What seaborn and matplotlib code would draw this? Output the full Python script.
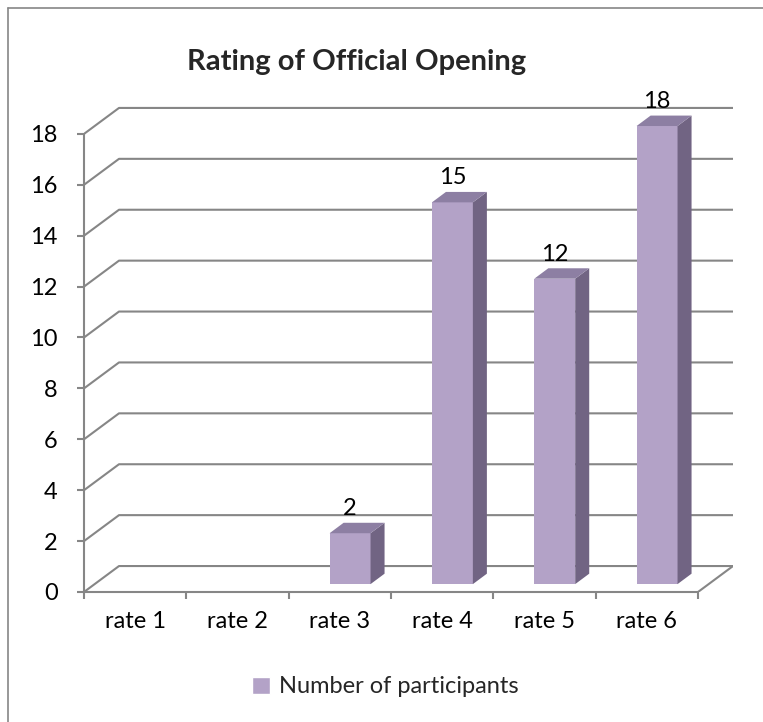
import matplotlib
matplotlib.use("Agg")
import matplotlib.pyplot as plt
import matplotlib.transforms as mtransforms
from matplotlib.patches import Polygon, Patch
from matplotlib.lines import Line2D
import pandas as pd
import seaborn as sns

# data
categories = ["rate 1", "rate 2", "rate 3", "rate 4", "rate 5", "rate 6"]
participants = [0, 0, 2, 15, 12, 18]
y_ticks = [0, 2, 4, 6, 8, 10, 12, 14, 16, 18]
title = "Rating of Official Opening"
series_name = "Number of participants"

FRONT = "#B3A2C7"
SIDE = "#716483"
TOP = "#8D7FA3"
GRID = "#868686"

# fake 3D depth (data units)
WALL_DX, WALL_DY = 0.342, 1.02
BAR_DX, BAR_DY = 0.10, 0.31
SIDE_DX, SIDE_DY = 0.137, 0.41

sns.set_theme(style="white")
plt.rcParams["font.family"] = ["Lato", "DejaVu Sans"]

fig = plt.figure(figsize=(7.63, 7.22), dpi=100)
ax = fig.add_axes([84 / 763, 130 / 722, 649 / 763, 509 / 722])

df = pd.DataFrame({"rating": categories, "count": participants})
sns.barplot(data=df, x="rating", y="count", color=FRONT, saturation=1,
            width=0.4, linewidth=0, errorbar=None, ax=ax, zorder=3)

ax.set_xlim(-0.5, len(categories) - 0.5 + WALL_DX)
ax.set_ylim(0, 20)

# back wall gridlines + floor
x_left, x_right = -0.5, len(categories) - 0.5
for v in y_ticks:
    ax.plot([x_left, x_left + WALL_DX, x_right + WALL_DX],
            [v, v + WALL_DY, v + WALL_DY], color=GRID, lw=1.5, zorder=1)
ax.plot([x_right, x_right + WALL_DX], [0, WALL_DY], color=GRID, lw=1.5, zorder=1)

# bars: shift front faces back a bit, add side and top faces
shift = mtransforms.Affine2D().translate(BAR_DX, BAR_DY) + ax.transData
for p in list(ax.patches):
    x0, w, h = p.get_x(), p.get_width(), p.get_height()
    if h == 0:
        p.set_visible(False)
        continue
    p.set_transform(shift)
    side = Polygon([(x0 + w, 0), (x0 + w, h), (x0 + w + SIDE_DX, h + SIDE_DY),
                    (x0 + w + SIDE_DX, SIDE_DY)], closed=True,
                   facecolor=SIDE, edgecolor="none", transform=shift, zorder=3)
    top = Polygon([(x0, h), (x0 + w, h), (x0 + w + SIDE_DX, h + SIDE_DY),
                   (x0 + SIDE_DX, h + SIDE_DY)], closed=True,
                  facecolor=TOP, edgecolor="none", transform=shift, zorder=3)
    ax.add_patch(side)
    ax.add_patch(top)

# value labels
for i, v in enumerate(participants):
    if v > 0:
        ax.annotate(str(v), xy=(i + BAR_DX, v + BAR_DY), xytext=(0, 13),
                    textcoords="offset points", ha="center", va="baseline",
                    fontsize=17, color="black")

# axes styling
for s in ["top", "right"]:
    ax.spines[s].set_visible(False)
for s in ["left", "bottom"]:
    ax.spines[s].set_color(GRID)
    ax.spines[s].set_linewidth(1.5)
ax.spines["left"].set_bounds(0, 18)
ax.spines["bottom"].set_bounds(x_left, x_right)

ax.set_yticks(y_ticks)
ax.set_xticks(range(len(categories)))
ax.set_xticks([i - 0.5 for i in range(len(categories) + 1)], minor=True)
ax.set_xticklabels(categories)
ax.tick_params(axis="y", direction="out", length=5, width=1.5, color=GRID,
               pad=14, labelsize=17, labelcolor="black", left=True)
ax.tick_params(axis="x", which="major", length=0, pad=14, labelsize=17,
               labelcolor="black")
ax.tick_params(axis="x", which="minor", direction="out", length=5, width=1.5,
               color=GRID, bottom=True)
ax.set_xlabel("")
ax.set_ylabel("")
ax.patch.set_alpha(0)

fig.text(357 / 763, 1 - 70 / 722, title, ha="center", va="baseline",
         fontsize=21, fontweight="bold")

fig.legend(handles=[Patch(facecolor=FRONT)], labels=[series_name],
           loc="center", bbox_to_anchor=(0.505, 0.0485), frameon=False,
           fontsize=17, handlelength=0.75, handleheight=0.75, handletextpad=0.4)

# chart area border (top and left visible)
fig.add_artist(Line2D([8 / 763, 8 / 763], [0, 1 - 8 / 722],
                      transform=fig.transFigure, color=GRID, lw=1.2))
fig.add_artist(Line2D([8 / 763, 1], [1 - 8 / 722, 1 - 8 / 722],
                      transform=fig.transFigure, color=GRID, lw=1.2))

fig.savefig("out.png", dpi=100)
